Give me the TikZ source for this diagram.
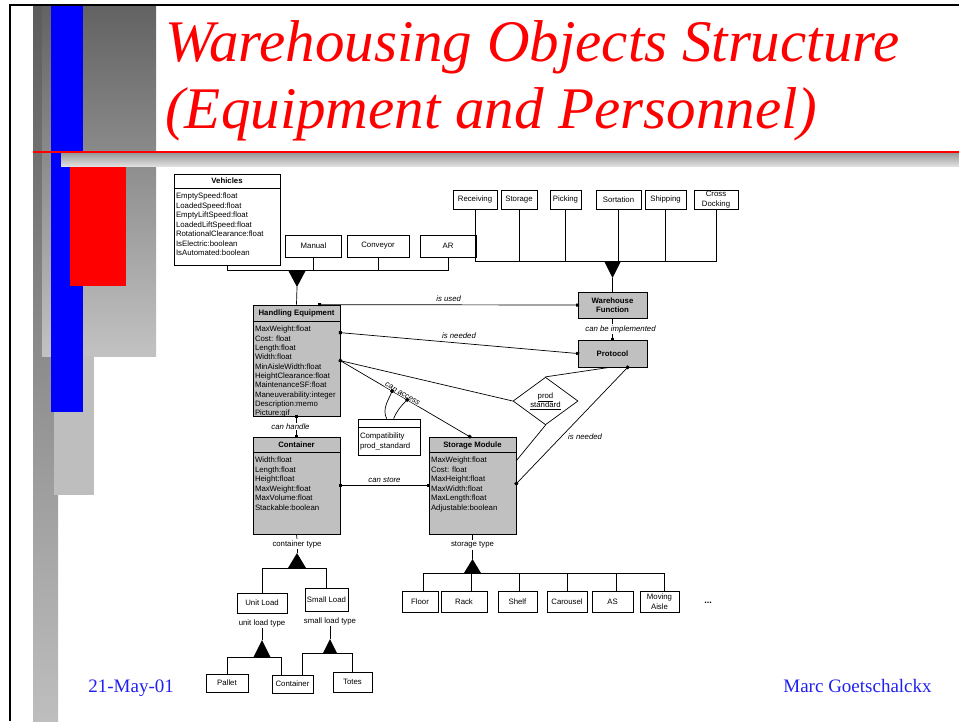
\documentclass[tikz,border=0pt]{standalone}
\usepackage{fontspec}
\setmainfont{Liberation Serif}
\setsansfont{Liberation Sans}
\usetikzlibrary{calc,shapes.geometric,arrows.meta}

\definecolor{umlgray}{RGB}{192,192,192}
\definecolor{titlered}{RGB}{255,0,0}
\definecolor{footblue}{RGB}{32,32,240}
\definecolor{bardark}{RGB}{92,92,92}
\definecolor{barlight}{RGB}{190,190,190}

\begin{document}
\begin{tikzpicture}[x=1pt,y=-1pt,line width=0.7pt,
    font=\sffamily\fontsize{7.8}{9.5}\selectfont,
    sq/.tip={Square[length=3pt,width=3pt]},
    box/.style={draw,fill=white,inner sep=0pt,align=center},
    klass/.style={draw,fill=umlgray,inner sep=0pt},
    hdr/.style={font=\sffamily\bfseries\fontsize{7.8}{9.5}\selectfont,inner sep=0pt},
    attr/.style={anchor=north west,align=left,inner sep=0pt},
    rel/.style={font=\sffamily\itshape\fontsize{7.8}{9.5}\selectfont,inner sep=1pt},
    link/.style={sq-sq,shorten <=-1.5pt,shorten >=-1.5pt},
    tolink/.style={-sq,shorten >=-1.5pt}]

\useasboundingbox (0,0) rectangle (959,721);

% slide background
\shade[top color=bardark,bottom color=barlight] (33,5) rectangle (58,721);
\shade[top color={rgb,255:red,98;green,98;blue,98},bottom color={rgb,255:red,194;green,194;blue,194}] (42,5) rectangle (156,356);
\fill[barlight] (54,356) rectangle (94,495);
\fill[blue] (51,5) rectangle (83,412);
\draw[titlered,line width=1.2pt] (33,152) -- (959,152);
\shade[top color=gray!80,bottom color=gray!25] (61,153) rectangle (959,166);
\fill[titlered] (70,167) rectangle (126,286);
\draw[line width=2pt] (10,721) -- (10,5) -- (959,5);

% title and footer
\node[anchor=base west,inner sep=0pt,text=titlered,font=\rmfamily\itshape\fontsize{59}{60}\selectfont] (title1) at (165,61) {Warehousing Objects Structure};
\node[anchor=base west,inner sep=0pt,text=titlered,font=\rmfamily\itshape\fontsize{59}{60}\selectfont] (title2) at (165,128) {(Equipment and Personnel)};
\node[anchor=base west,inner sep=0pt,text=footblue,font=\rmfamily\fontsize{19}{20}\selectfont] (date) at (88,692) {21-May-01};
\node[anchor=base east,inner sep=0pt,text=footblue,font=\rmfamily\fontsize{19}{20}\selectfont] (author) at (932,692) {Marc Goetschalckx};

% vehicles
\node[box,minimum width=106,minimum height=91] (veh) at (227,219.5) {};
\node[hdr] (veh-h) at (227,181) {Vehicles};
\draw ($(veh.north west)+(0,15)$) -- ($(veh.north east)+(0,15)$);
\node[attr] (veh-a) at ($(veh.north west)+(2,19)$) {EmptySpeed:float\\LoadedSpeed:float\\EmptyLiftSpeed:float\\LoadedLiftSpeed:float\\RotationalClearance:float\\IsElectric:boolean\\IsAutomated:boolean};
\node[box,minimum width=56,minimum height=22] (manual) at (313.5,246) {Manual};
\node[box,minimum width=62,minimum height=22] (conv) at (378,246) {Conveyor};
\node[box,minimum width=56,minimum height=22] (ar) at (448,246) {AR};

% warehouse functions
\node[box,minimum width=44,minimum height=19] (recv) at (475,199.5) {Receiving};
\node[box,minimum width=36,minimum height=19] (stor) at (519,199.5) {Storage};
\node[box,minimum width=31,minimum height=19] (pick) at (565.5,199.5) {Picking};
\node[box,minimum width=45,minimum height=19] (sort) at (618.5,199.5) {Sortation};
\node[box,minimum width=41,minimum height=19] (ship) at (665.5,199.5) {Shipping};
\node[box,minimum width=44,minimum height=19] (cross) at (716,199.5) {Cross\\Docking};
\node[klass,hdr,align=center,minimum width=69,minimum height=26] (wf) at (612.5,305) {Warehouse\\Function};
\node[klass,hdr,minimum width=69,minimum height=27] (proto) at (612.5,353.5) {Protocol};

% handling equipment
\node[klass,minimum width=87,minimum height=111] (he) at (296.5,360.5) {};
\node[hdr] (he-h) at (296.5,313) {Handling Equipment};
\draw ($(he.north west)+(0,17)$) -- ($(he.north east)+(0,17)$);
\node[attr,font=\sffamily\fontsize{7.8}{9.35}\selectfont] (he-a) at ($(he.north west)+(2,21)$) {MaxWeight:float\\Cost: float\\Length:float\\Width:float\\MinAisleWidth:float\\HeightClearance:float\\MaintenanceSF:float\\Maneuverability:integer\\Description:memo\\Picture:gif};

% container and storage module
\node[klass,minimum width=87,minimum height=97] (cont) at (296.5,485.5) {};
\node[hdr] (cont-h) at (296.5,445) {Container};
\draw ($(cont.north west)+(0,16)$) -- ($(cont.north east)+(0,16)$);
\node[attr] (cont-a) at ($(cont.north west)+(2,20)$) {Width:float\\Length:float\\Height:float\\MaxWeight:float\\MaxVolume:float\\Stackable:boolean};
\node[klass,minimum width=87,minimum height=97] (sm) at (472.5,485.5) {};
\node[hdr] (sm-h) at (472.5,445) {Storage Module};
\draw ($(sm.north west)+(0,16)$) -- ($(sm.north east)+(0,16)$);
\node[attr] (sm-a) at ($(sm.north west)+(2,20)$) {MaxWeight:float\\Cost: float\\MaxHeight:float\\MaxWidth:float\\MaxLength:float\\Adjustable:boolean};

% prod standard
\node[draw,diamond,fill=white,inner sep=0pt,minimum width=65,minimum height=44,align=center] (ps) at (545.5,401) {\underline{prod}\\\underline{standard}};
\node[box,minimum width=62,minimum height=36] (compat) at (389,437) {};
\draw ($(compat.north west)+(0,9)$) -- ($(compat.north east)+(0,9)$);
\node[attr] (compat-a) at ($(compat.north west)+(2,14)$) {Compatibility\\prod\_standard};

% vehicles tree
\coordinate (vbar) at (297,270);
\foreach \b in {veh,manual,conv,ar}
  \draw (\b.south) |- (vbar);
\fill (vbar) ++(-9,0) -- ++(18,0) -- ++(-9,17) -- cycle;
\draw ($(vbar)+(0,17)$) -- (he.north);

% function tree
\coordinate (wbar) at (612.5,261);
\foreach \b in {recv,stor,pick,sort,ship,cross}
  \draw (\b.south) |- (wbar);
\fill (wbar) ++(-8.5,0) -- ++(17,0) -- ++(-8.5,17) -- cycle;
\draw ($(wbar)+(0,17)$) -- (wf.north);

% associations
\coordinate (hea) at ($(he.north east)+(0,56)$);
\coordinate (smtop) at ($(sm.north west)+(41,0)$);
\draw[link] ($(he.north west)+(67,0)$) -- (wf.west) node[rel,midway,above=2pt] {is used};
\draw[tolink] (wf.south) -- (proto.north) node[rel,midway,fill=white,xshift=8] {can be implemented};
\draw[link] ($(he.north east)+(0,28)$) -- (proto.west) node[rel,midway,above=3pt] {is needed};
\draw (hea) -- (ps.west);
\draw (ps.north) -- ($(proto.south west)+(32,0)$);
\draw (ps.south) -- ($(sm.north east)+(0,24)$);
\draw[link] ($(proto.south west)+(50,0)$) -- ($(sm.north east)+(0,47)$) node[rel,pos=0.6,right=6pt] {is needed};
\draw[link] (hea) -- (smtop) node[rel,sloped,pos=0.47,above=0pt,fill=white,inner sep=0.3pt] {can access};
\coordinate (ca1) at ($(hea)!0.4!(smtop)$);
\coordinate (ca2) at ($(hea)!0.516!(smtop)$);
\draw[tolink] ($(compat.north west)+(29,0)$) .. controls +(-5,-10) and +(-3,8) .. (ca1);
\draw[tolink] ($(compat.north west)+(36,0)$) .. controls +(3,-8) and +(-4,4) .. (ca2);
\draw[link] (he.south) -- (cont.north) node[rel,midway,fill=white,xshift=-6] {can handle};
\draw[link] (cont.east) -- (sm.west) node[rel,midway,above=2pt] {can store};

% container types
\node[inner sep=1pt] (ctype) at (297,544) {container type};
\draw (cont.south) -- (ctype.north);
\coordinate (cbar) at (297,568);
\draw (ctype.south) -- ($(cbar)+(0,-15)$);
\fill (cbar) ++(-9,0) -- ++(18,0) -- ++(-9,-15) -- cycle;
\node[box,minimum width=50,minimum height=20] (ul) at (262,603) {Unit Load};
\node[box,minimum width=43,minimum height=23] (sl) at (326.5,599.5) {Small Load};
\draw (ul.north) |- (cbar);
\draw (sl.north) |- (cbar);

\node[inner sep=1pt] (ultype) at (262,623) {unit load type};
\coordinate (ubar) at (262,657);
\draw (ultype.south) -- ($(ubar)+(0,-17)$);
\fill (ubar) ++(-8.5,0) -- ++(17,0) -- ++(-8.5,-17) -- cycle;
\node[inner sep=1pt] (sltype) at (330,621) {small load type};
\coordinate (sbar) at (330,653);
\draw (sltype.south) -- ($(sbar)+(0,-14)$);
\fill (sbar) ++(-7,0) -- ++(14,0) -- ++(-7,-14) -- cycle;
\node[box,minimum width=42,minimum height=18] (pallet) at (227,683) {Pallet};
\node[box,minimum width=41,minimum height=18] (cont2) at (292.5,684) {Container};
\node[box,minimum width=39,minimum height=20] (totes) at (352.5,682) {Totes};
\draw (pallet.north) |- (ubar);
\draw ($(cont2.north west)+(10,0)$) |- (ubar);
\draw ($(cont2.north west)+(31,0)$) |- (sbar);
\draw (totes.north) |- (sbar);

% storage types
\node[inner sep=1pt] (stype) at (472.5,545) {storage type};
\draw (sm.south) -- (stype.north);
\coordinate (stbar) at (472.5,573);
\draw (stype.south) -- ($(stbar)+(0,-14)$);
\fill (stbar) ++(-8.5,0) -- ++(17,0) -- ++(-8.5,-14) -- cycle;
\node[box,minimum width=36,minimum height=21] (floor) at (420,601.5) {Floor};
\node[box,minimum width=46,minimum height=21] (rack) at (464,601.5) {Rack};
\node[box,minimum width=39,minimum height=21] (shelf) at (517.5,601.5) {Shelf};
\node[box,minimum width=40,minimum height=21] (carou) at (567,601.5) {Carousel};
\node[box,minimum width=41,minimum height=21] (as) at (612.5,601.5) {AS};
\node[box,minimum width=39,minimum height=21] (aisle) at (659.5,601.5) {Moving\\Aisle};
\foreach \b/\d in {floor/22,rack/31,shelf/22,carou/21,as/25,aisle/25}
  \draw ($(\b.north west)+(\d,0)$) |- (stbar);
\node[font=\sffamily\bfseries\fontsize{9}{10}\selectfont] (more) at (708,603) {...};

\end{tikzpicture}
\end{document}
